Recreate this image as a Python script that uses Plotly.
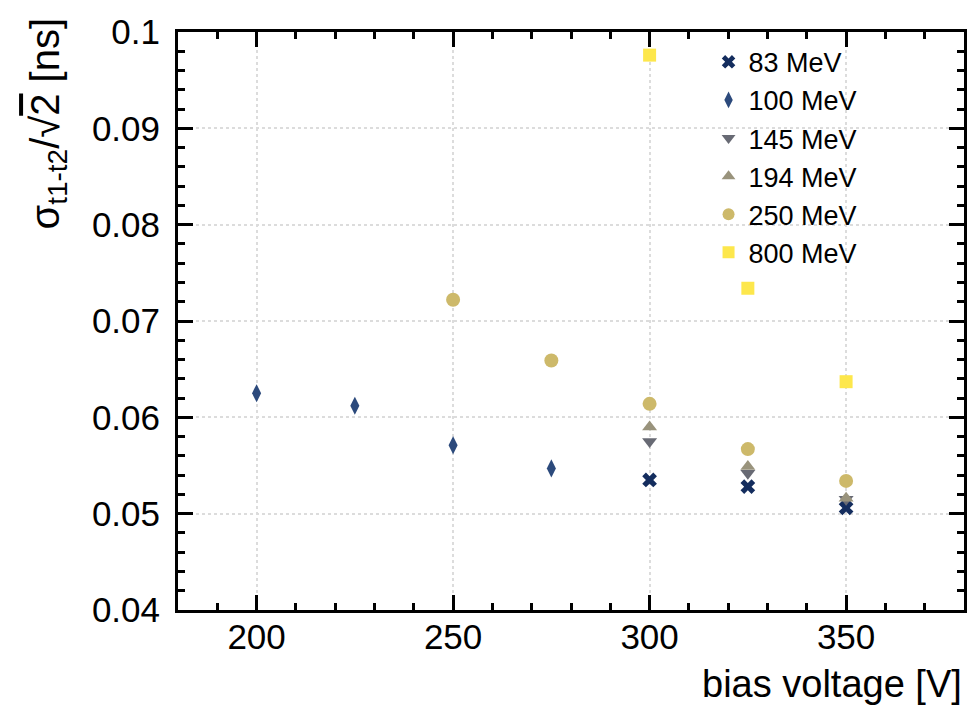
import plotly.graph_objects as go

# data
v83 = [300, 325, 350]
y83 = [0.0535, 0.0528, 0.0506]
v100 = [200, 225, 250, 275]
y100 = [0.0625, 0.0612, 0.0571, 0.0547]
v145 = [300, 325, 350]
y145 = [0.0575, 0.0542, 0.0515]
v194 = [300, 325, 350]
y194 = [0.0590, 0.0549, 0.0516]
v250 = [250, 275, 300, 325, 350]
y250 = [0.0722, 0.0659, 0.0614, 0.0567, 0.0534]
v800 = [300, 325, 350]
y800 = [0.0976, 0.0734, 0.0637]

FONT = "Liberation Sans, Arial, Helvetica, sans-serif"

series = [
    ("83 MeV", v83, y83, "x", "#142d5e", 13),
    ("100 MeV", v100, y100, "diamond-tall", "#2c4a7c", 13),
    ("145 MeV", v145, y145, "triangle-down", "#686a74", 13),
    ("194 MeV", v194, y194, "triangle-up", "#99937c", 13),
    ("250 MeV", v250, y250, "circle", "#cdb96a", 14),
    ("800 MeV", v800, y800, "square", "#fde74c", 13),
]

fig = go.Figure()
for name, xs, ys, sym, col, sz in series:
    fig.add_trace(go.Scatter(
        x=xs, y=ys, mode="markers", name=name,
        marker=dict(symbol=sym, size=sz, color=col, line=dict(width=0)),
    ))

axis_common = dict(
    showline=True, linecolor="black", linewidth=3, mirror="allticks",
    ticks="inside", ticklen=15, tickwidth=3, tickcolor="black",
    showgrid=True, gridcolor="#dcdcdc", griddash="dot", gridwidth=1.5,
    zeroline=False,
    tickfont=dict(family=FONT, size=35, color="black"),
)

fig.update_xaxes(
    range=[180, 380], tickvals=[200, 250, 300, 350],
    minor=dict(dtick=10, tick0=180, ticks="inside", ticklen=7, tickwidth=3, tickcolor="black", showgrid=False),
    ticklabelstandoff=-6,
    **axis_common,
)
fig.update_yaxes(
    range=[0.04, 0.1], tickvals=[0.04, 0.05, 0.06, 0.07, 0.08, 0.09, 0.1],
    ticktext=["0.04", "0.05", "0.06", "0.07", "0.08", "0.09", "0.1"],
    minor=dict(dtick=0.002, tick0=0.04, ticks="inside", ticklen=7, tickwidth=3, tickcolor="black", showgrid=False),
    ticklabelstandoff=8,
    **axis_common,
)

fig.add_annotation(
    text="bias voltage [V]", xref="paper", yref="paper", x=1.0, y=-0.1276,
    xanchor="right", yanchor="middle", showarrow=False,
    font=dict(family=FONT, size=38, color="black"),
)
fig.add_annotation(
    text="σ<sub>t1-t2</sub>/√<span style='text-decoration:overline'>2</span> [ns]",
    xref="paper", yref="paper", x=-0.165, y=1.029,
    xanchor="center", yanchor="top", textangle=-90, showarrow=False,
    font=dict(family=FONT, size=40, color="black"),
)

fig.update_layout(
    width=979, height=705,
    margin=dict(l=178, r=14, t=22, b=95),
    paper_bgcolor="white", plot_bgcolor="white",
    showlegend=True,
    legend=dict(
        x=0.675, y=0.99, xanchor="left", yanchor="top",
        bgcolor="rgba(0,0,0,0)", borderwidth=0,
        font=dict(family=FONT, size=27, color="black"),
        itemsizing="constant", tracegroupgap=0,
    ),
)

fig.write_html("out.html", config={"displayModeBar": False},
               post_script="document.body.style.margin='0';")
